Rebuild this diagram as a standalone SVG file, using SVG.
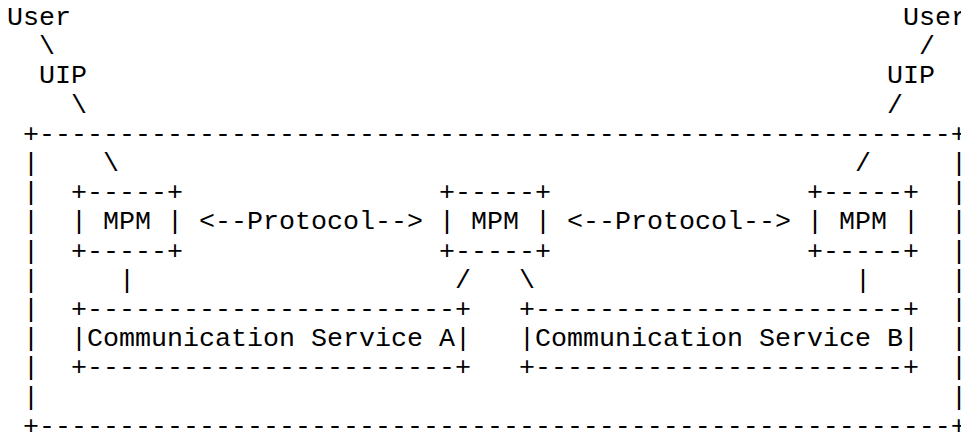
<svg xmlns="http://www.w3.org/2000/svg" width="961" height="432" viewBox="0 0 961 432">
<style>
text{font-family:"Liberation Mono","Courier New",monospace;font-size:26.67px;fill:#000;white-space:pre}
</style>
<rect width="961" height="432" fill="#fff"/>
<g xml:space="preserve">
<g id="outer-box">
<text x="23" y="141.8">+---------------------------------------------------------+</text>
<text x="23" y="171">|</text><text x="951" y="171">|</text>
<text x="23" y="200.2">|</text><text x="951" y="200.2">|</text>
<text x="23" y="229.4">|</text><text x="951" y="229.4">|</text>
<text x="23" y="258.6">|</text><text x="951" y="258.6">|</text>
<text x="23" y="287.8">|</text><text x="951" y="287.8">|</text>
<text x="23" y="317">|</text><text x="951" y="317">|</text>
<text x="23" y="346.2">|</text><text x="951" y="346.2">|</text>
<text x="23" y="375.4">|</text><text x="951" y="375.4">|</text>
<text x="23" y="404.6">|</text><text x="951" y="404.6">|</text>
<text x="23" y="433.8">+---------------------------------------------------------+</text>
</g>
<g id="user-left"><text x="7" y="25">User</text></g>
<g id="uip-left"><text x="39" y="83.4">UIP</text></g>
<g id="user-right"><text x="903" y="25">User</text></g>
<g id="uip-right"><text x="887" y="83.4">UIP</text></g>
<g id="mpm-a">
<text x="71" y="200.2">+-----+</text>
<text x="71" y="229.4">| MPM |</text>
<text x="71" y="258.6">+-----+</text>
</g>
<g id="mpm-b">
<text x="439" y="200.2">+-----+</text>
<text x="439" y="229.4">| MPM |</text>
<text x="439" y="258.6">+-----+</text>
</g>
<g id="mpm-c">
<text x="807" y="200.2">+-----+</text>
<text x="807" y="229.4">| MPM |</text>
<text x="807" y="258.6">+-----+</text>
</g>
<g id="service-a">
<text x="71" y="317">+-----------------------+</text>
<text x="71" y="346.2">|Communication Service A|</text>
<text x="71" y="375.4">+-----------------------+</text>
</g>
<g id="service-b">
<text x="519" y="317">+-----------------------+</text>
<text x="519" y="346.2">|Communication Service B|</text>
<text x="519" y="375.4">+-----------------------+</text>
</g>
<g id="connectors">
<text x="39" y="54.2">\</text>
<text x="919" y="54.2">/</text>
<text x="71" y="112.6">\</text>
<text x="887" y="112.6">/</text>
<text x="103" y="171">\</text>
<text x="855" y="171">/</text>
<text x="199" y="229.4">&lt;--Protocol--&gt;</text>
<text x="567" y="229.4">&lt;--Protocol--&gt;</text>
<text x="119" y="287.8">|</text>
<text x="455" y="287.8">/</text>
<text x="519" y="287.8">\</text>
<text x="855" y="287.8">|</text>
</g>
</g>
</svg>
